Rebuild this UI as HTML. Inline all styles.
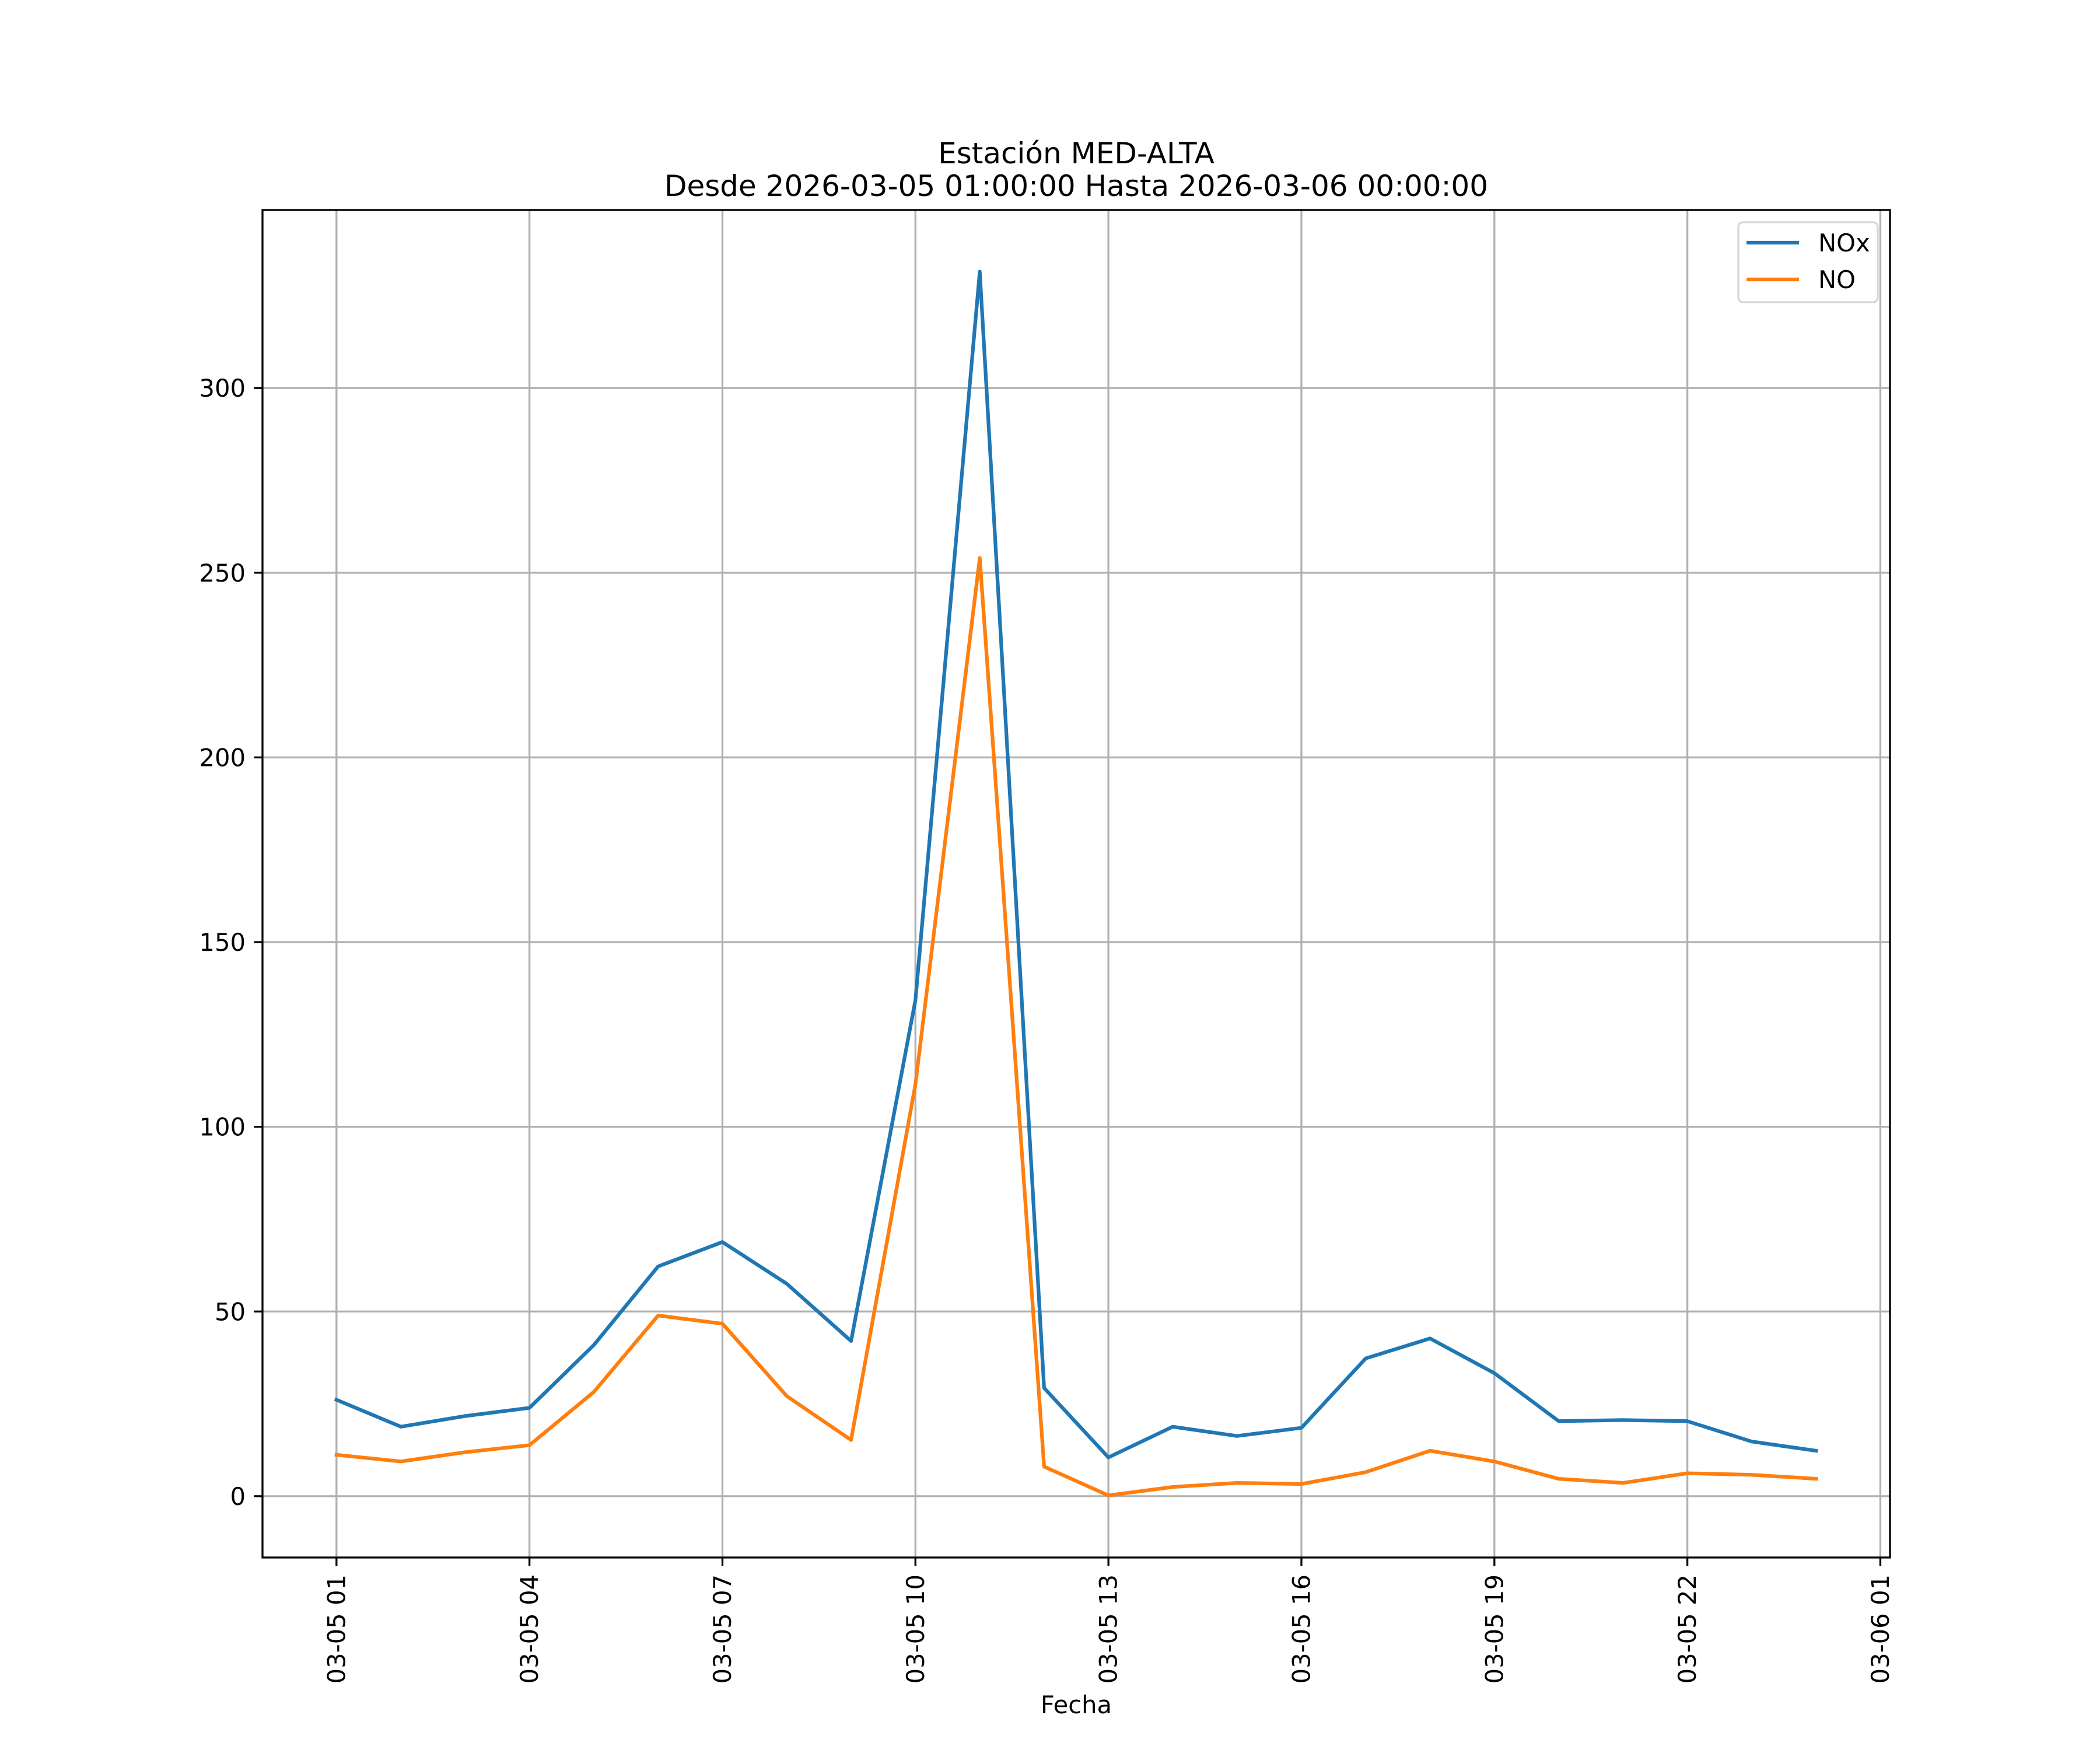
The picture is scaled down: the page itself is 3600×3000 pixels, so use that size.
<!DOCTYPE html>
<html><head><meta charset="utf-8"><style>
html,body{margin:0;padding:0;background:#fff}
svg{display:block;font-family:"DejaVu Sans","Liberation Sans",sans-serif}
</style></head><body>
<svg id="chart" width="3600" height="3000" viewBox="0 0 3600 3000"></svg>
<script>
const hours = [0,1,2,3,4,5,6,7,8,9,10,11,12,13,14,15,16,17,18,19,20,21,22,23];
const noxValues = [26.1,18.8,21.7,23.9,40.9,62.2,68.8,57.5,42,134.3,331.5,29.3,10.5,18.8,16.3,18.5,37.3,42.7,33.3,20.3,20.6,20.3,14.8,12.3];
const noValues = [11.2,9.4,11.9,13.8,28.2,48.9,46.7,27.1,15.2,111.5,254,8,0.2,2.5,3.6,3.3,6.5,12.3,9.4,4.7,3.6,6.2,5.8,4.7];
const xTickHours = [0,3,6,9,12,15,18,21,24];
const xTickLabels = ["03-05 01","03-05 04","03-05 07","03-05 10","03-05 13","03-05 16","03-05 19","03-05 22","03-06 01"];
const yTicks = [0,50,100,150,200,250,300];

const L=450,R=3240,T=360,B=2670;
const xMin=-1.15,xMax=24.15,yMin=-16.6,yMax=348.2;
function xs(h){return L+(h-xMin)/(xMax-xMin)*(R-L);}
function ys(v){return B-(v-yMin)/(yMax-yMin)*(B-T);}
const NS="http://www.w3.org/2000/svg";
const svg=document.getElementById('chart');
function mk(tag,attrs,parent){const e=document.createElementNS(NS,tag);for(const k in attrs)e.setAttribute(k,attrs[k]);(parent||svg).appendChild(e);return e;}

const grid=mk('g',{});


xTickHours.forEach((h,i)=>{
  const x=xs(h);
  const gl=mk('line',{x1:x,x2:x,y1:T,y2:B,stroke:'#b0b0b0','stroke-width':3.3},grid);
  
  
  const tk=mk('line',{x1:x,x2:x,y1:B,y2:B+14.6,stroke:'#000','stroke-width':3.3});
  
  
  const t=mk('text',{x:0,y:0,transform:`translate(${x},${B+29}) rotate(-90)`,'text-anchor':'end','dominant-baseline':'central','font-size':41.7,fill:'#000'});
  t.textContent=xTickLabels[i];
  
  
});
yTicks.forEach(v=>{
  const y=ys(v);
  const gl=mk('line',{x1:L,x2:R,y1:y,y2:y,stroke:'#b0b0b0','stroke-width':3.3},grid);
  
  
  const tk=mk('line',{x1:L-14.6,x2:L,y1:y,y2:y,stroke:'#000','stroke-width':3.3});
  
  
  const t=mk('text',{x:L-29,y:y+15,'text-anchor':'end','font-size':41.7,fill:'#000'});
  t.textContent=String(v);
  
  
});

function series(vals,color,name){
  const d=hours.map((h,i)=>(i?'L':'M')+xs(h).toFixed(1)+' '+ys(vals[i]).toFixed(1)).join(' ');
  const p=mk('path',{d:d,fill:'none',stroke:color,'stroke-width':6.25,'stroke-linejoin':'round','stroke-linecap':'square'});
  
  
}
series(noxValues,'#1f77b4','nox-line');
series(noValues,'#ff7f0e','no-line');

const frame=mk('rect',{x:L,y:T,width:R-L,height:B-T,fill:'none',stroke:'#000','stroke-width':3.3});



const lg=mk('g',{});


mk('rect',{x:2980,y:381,width:239,height:137,rx:8,fill:'#fff','fill-opacity':0.8,stroke:'#d6d6d6','stroke-width':3.3},lg);
const l1=mk('line',{x1:2994,x2:3084,y1:416,y2:416,stroke:'#1f77b4','stroke-width':6.25},lg);


const t1=mk('text',{x:3117,y:431,'font-size':41.7,fill:'#000'},lg);
t1.textContent='NOx';


const l2=mk('line',{x1:2994,x2:3084,y1:479,y2:479,stroke:'#ff7f0e','stroke-width':6.25},lg);


const t2=mk('text',{x:3117,y:494,'font-size':41.7,fill:'#000'},lg);
t2.textContent='NO';



const ti1=mk('text',{x:1845,y:280,'text-anchor':'middle','font-size':50,fill:'#000'});
ti1.textContent='Estación MED-ALTA';


const ti2=mk('text',{x:1845,y:336,'text-anchor':'middle','font-size':50,fill:'#000'});
ti2.textContent='Desde 2026-03-05 01:00:00 Hasta 2026-03-06 00:00:00';


const xl=mk('text',{x:1845,y:2937,'text-anchor':'middle','font-size':41.7,fill:'#000'});
xl.textContent='Fecha';


</script>
</body></html>
